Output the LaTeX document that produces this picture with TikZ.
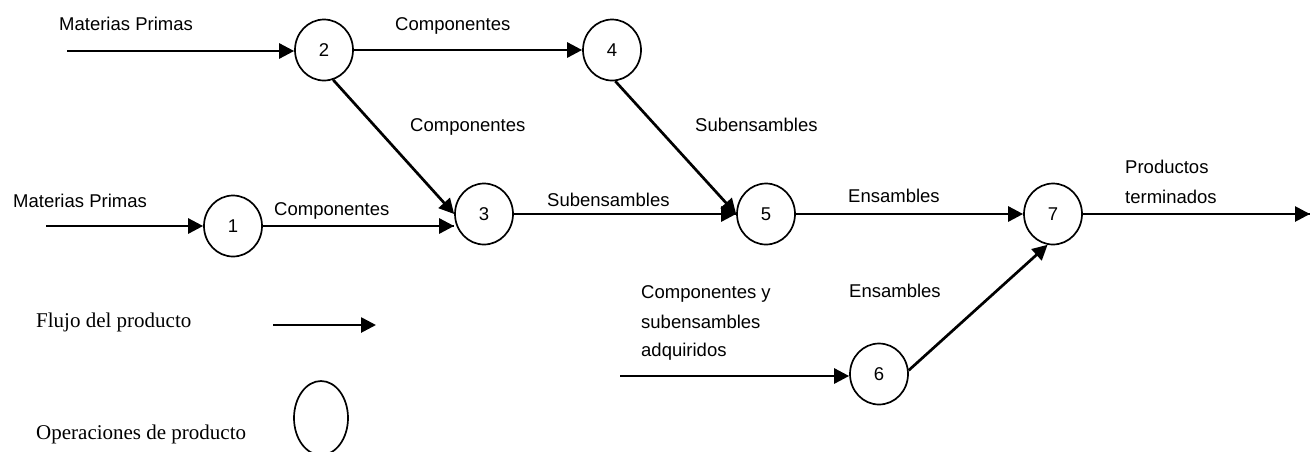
\documentclass[tikz,border=0pt]{standalone}
\usepackage{fontspec}
\setmainfont{Liberation Sans}
\newfontfamily\serifleg{Liberation Serif}
\usetikzlibrary{arrows.meta,shapes.geometric}
\begin{document}
\begin{tikzpicture}[x=1pt,y=-1pt,
  op/.style={draw, ellipse, line width=1.7pt, minimum width=58pt, minimum height=61pt, inner sep=0pt, font=\fontsize{18.5}{22}\selectfont},
  lbl/.style={anchor=base west, inner sep=0pt, font=\fontsize{18.5}{22}\selectfont},
  leg/.style={anchor=base west, inner sep=0pt, font=\serifleg\fontsize{21}{25}\selectfont},
  flow/.style={line width=2.7pt, -{Triangle[length=15pt,width=15pt]}},
  thinflow/.style={line width=1.3pt},
  thickseg/.style={line width=2.7pt},
]
\useasboundingbox (0,0) rectangle (1316,451);

% operations
\node[op] (n1) at (233,226) {1};
\node[op] (n2) at (324,50) {2};
\node[op] (n3) at (484,214) {3};
\node[op] (n4) at (612,50) {4};
\node[op] (n5) at (766,214) {5};
\node[op] (n6) at (879,374) {6};
\node[op] (n7) at (1053,214) {7};

% free ends
\coordinate (a2) at (67,51);
\coordinate (a1) at (46,226);
\coordinate (a6) at (620,376);
\coordinate (out) at (1310,214);
\coordinate (e13) at (n1.east -| n3.west);

% connectors
\draw[flow] (a2) -- (a2 -| n2.west);
\draw[flow] (n2.east) -- (n4.west);
\draw[flow] (n2.-73) -- (n3.west);
\draw[flow] (n4.-84) -- (n5.west);
\draw[flow] (a1) -- (n1.west);
\draw[thinflow] (n1.east) -- (e13);
\draw[flow] ([xshift=-37pt]e13) -- (e13);
\draw[thinflow] (n3.east) -- (n5.west);
\draw[thickseg] (n3.east) -- ++(14,0);
\draw[flow] ([xshift=-41pt]n5.west) -- (n5.west);
\draw[flow] (n5.east) -- (n7.west);
\draw[thinflow] (n7.east) -- (out);
\draw[thickseg] (n7.east) -- ++(21,0);
\draw[flow] ([xshift=-35pt]out) -- (out);
\draw[flow] (a6) -- (a6 -| n6.west);
\draw[flow] (n6.7) -- (n7.-100);

% labels
\node[lbl] (t1) at (59,30) {Materias Primas};
\node[lbl] (t2) at (395,30) {Componentes};
\node[lbl] (t3) at (410,131) {Componentes};
\node[lbl] (t4) at (695,131) {Subensambles};
\node[lbl] (t5) at (13,207) {Materias Primas};
\node[lbl] (t6) at (274,215) {Componentes};
\node[lbl] (t7) at (547,206) {Subensambles};
\node[lbl] (t8) at (848,202) {Ensambles};
\node[lbl] (t9) at (1125,173) {Productos};
\node[lbl] (t10) at (1125,203) {terminados};
\node[lbl] (t11) at (641,298) {Componentes y};
\node[lbl] (t12) at (641,328) {subensambles};
\node[lbl] (t13) at (641,356) {adquiridos};
\node[lbl] (t14) at (849,297) {Ensambles};

% legend
\node[leg] (l1) at (36,327) {Flujo del producto};
\coordinate (lf1) at (273,325);
\coordinate (lf2) at (376,325);
\draw[flow] (lf1) -- (lf2);
\node[leg] (l2) at (36,439) {Operaciones de producto};
\node[draw, ellipse, line width=1.7pt, minimum width=54pt, minimum height=74pt, inner sep=0pt] (legop) at (321,418) {};
\end{tikzpicture}
\end{document}
